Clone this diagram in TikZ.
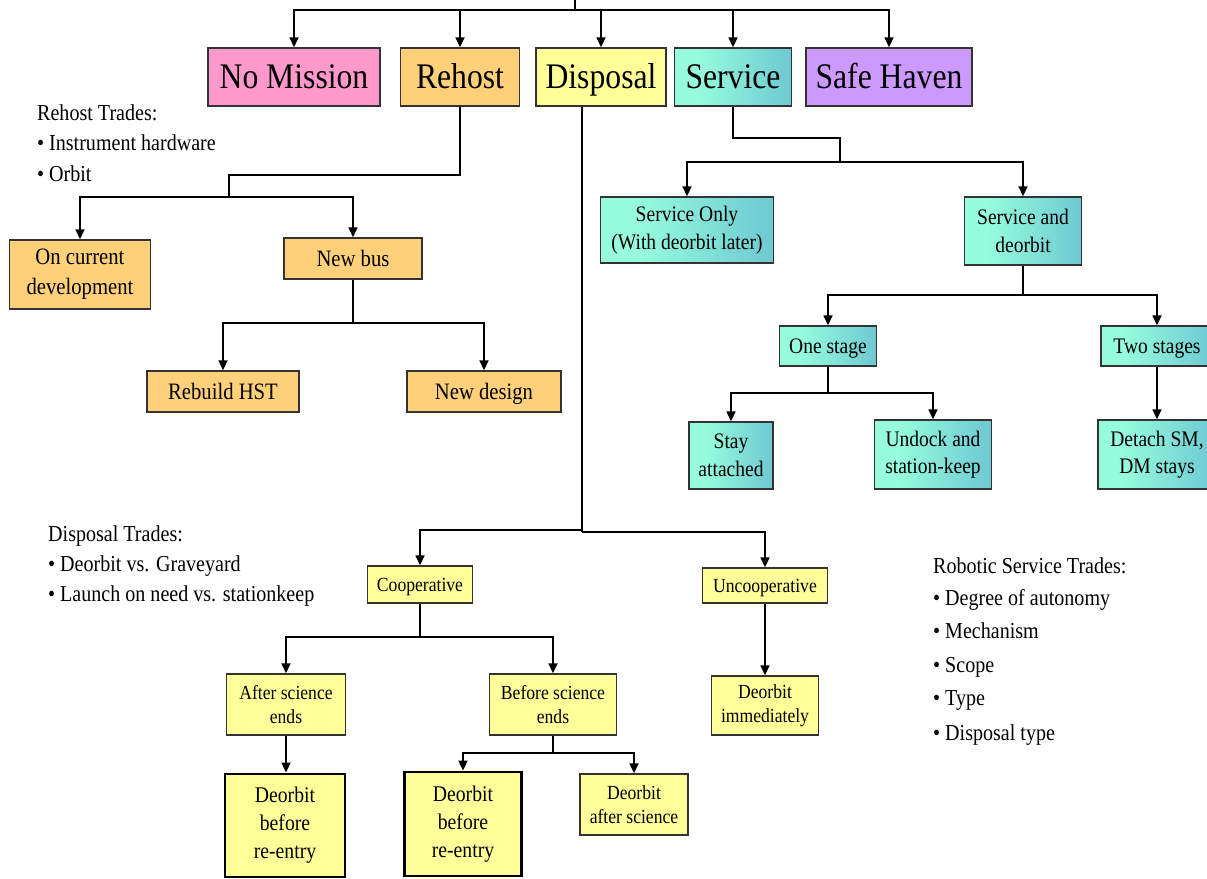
\documentclass[tikz,border=0pt]{standalone}
\usepackage{fontspec}
\setmainfont[FakeStretch=0.88]{Liberation Serif}
\usetikzlibrary{arrows.meta}
\definecolor{cPink}{HTML}{FF99CC}
\definecolor{cOrange}{HTML}{FFD07A}
\definecolor{cYellow}{HTML}{FFFF99}
\definecolor{cPurple}{HTML}{CC99FF}
\definecolor{cAqua}{HTML}{96FCDC}
\definecolor{cSteel}{HTML}{55A8CC}
\definecolor{cEdge}{HTML}{333333}
\pgfdeclarehorizontalshading{svcshade}{100bp}{color(0bp)=(cAqua); color(35bp)=(cAqua); color(100bp)=(cSteel)}
\tikzset{
  bx/.style={draw=cEdge, line width=1.4pt, inner sep=0pt, align=center},
  big/.style={bx, text height=23.8pt, text depth=0pt, minimum height=58pt, font=\fontsize{36}{40}\selectfont},
  rh/.style={bx, fill=cOrange, font=\fontsize{23.5}{30}\selectfont},
  rhone/.style={rh, text height=15.5pt, text depth=0pt},
  sv/.style={bx, shading=svcshade, font=\fontsize{22.2}{27.5}\selectfont},
  svone/.style={sv, text height=14.6pt, text depth=0pt},
  dp/.style={bx, fill=cYellow, font=\fontsize{20}{24}\selectfont},
  dpone/.style={dp, text height=13.2pt, text depth=0pt},
  dpthick/.style={bx, fill=cYellow, line width=2.8pt, draw=black, font=\fontsize{22.4}{28}\selectfont},
  ln/.style={line width=1.7pt, black},
  arr/.style={ln, -{Triangle[length=10pt,width=9pt]}},
  trade/.style={anchor=base west, inner sep=0pt, font=\fontsize{22.8}{24}\selectfont}
}
\begin{document}
\begin{tikzpicture}[x=1pt,y=-1pt]
\clip (0,0) rectangle (1207,878);
% top level
\node[big, fill=cPink, minimum width=172pt] (nomission) at (294,77) {No Mission};
\node[big, fill=cOrange, minimum width=119pt] (rehost) at (460,77) {Rehost};
\node[big, fill=cYellow, minimum width=130pt] (disposal) at (601,77) {Disposal};
\node[big, shading=svcshade, minimum width=117pt] (service) at (733,77) {Service};
\node[big, fill=cPurple, minimum width=166pt] (safehaven) at (889,77) {Safe Haven};
\coordinate (top) at (575,0);
\coordinate (hub) at (575,10);
\draw[ln] (top) -- (hub);
\draw[arr] (hub) -| (nomission.north);
\draw[arr] (hub) -| (rehost.north);
\draw[arr] (hub) -| (disposal.north);
\draw[arr] (hub) -| (service.north);
\draw[arr] (hub) -| (safehaven.north);
% rehost tree
\node[rh, minimum width=141pt, minimum height=69pt] (oncur) at (80,274.5) {On current\\development};
\node[rhone, minimum width=138pt, minimum height=41pt] (newbus) at (353,258.5) {New bus};
\node[rhone, minimum width=152pt, minimum height=41pt] (rebuild) at (223,391.5) {Rebuild HST};
\node[rhone, minimum width=154pt, minimum height=41pt] (newdesign) at (484,391.5) {New design};
\coordinate (rj) at (229,197);
\draw[ln] (rehost.south) -- (rehost.south |- 0,175) -- (rj |- 0,175) -- (rj);
\draw[arr] (rj) -| (oncur.north);
\draw[arr] (rj) -| (newbus.north);
\coordinate (nj) at (353,323);
\draw[ln] (newbus.south) -- (nj);
\draw[arr] (nj) -| (rebuild.north);
\draw[arr] (nj) -| (newdesign.north);
% service tree
\node[sv, minimum width=173pt, minimum height=66pt] (svconly) at (687,230) {Service Only\\(With deorbit later)};
\node[sv, minimum width=117pt, minimum height=68pt] (svcdeorb) at (1023,231) {Service and\\deorbit};
\node[svone, minimum width=97pt, minimum height=40pt] (onestage) at (828,346) {One stage};
\node[svone, minimum width=112pt, minimum height=40pt] (twostage) at (1157,346) {Two stages};
\node[sv, minimum width=84pt, minimum height=67pt] (stay) at (731,455.5) {Stay\\attached};
\node[sv, minimum width=117pt, minimum height=69pt] (undock) at (933,454.5) {Undock and\\station-keep};
\node[sv, minimum width=118pt, minimum height=69pt] (detach) at (1157,454.5) {Detach SM,\\DM stays};
\coordinate (sj) at (840,162);
\draw[ln] (service.south) -- (service.south |- 0,138) -- (sj |- 0,138) -- (sj);
\draw[arr] (sj) -| (svconly.north);
\draw[arr] (sj) -| (svcdeorb.north);
\coordinate (dj2) at (1023,295);
\draw[ln] (svcdeorb.south) -- (dj2);
\draw[arr] (dj2) -| (onestage.north);
\draw[arr] (dj2) -| (twostage.north);
\coordinate (oj) at (828,393);
\draw[ln] (onestage.south) -- (oj);
\draw[arr] (oj) -| (stay.north);
\draw[arr] (oj) -| (undock.north);
\draw[arr] (twostage.south) -- (detach.north);
% disposal tree
\node[dpone, minimum width=105pt, minimum height=37pt] (coop) at (420,584.5) {Cooperative};
\node[dpone, minimum width=125pt, minimum height=35pt] (uncoop) at (765,585.5) {Uncooperative};
\node[dp, minimum width=119pt, minimum height=61pt] (after) at (286,704.5) {After science\\ends};
\node[dp, minimum width=127pt, minimum height=61pt] (before) at (553,704.5) {Before science\\ends};
\node[dp, minimum width=107pt, minimum height=59pt] (deorbimm) at (765,705.5) {Deorbit\\immediately};
\node[dpthick, minimum width=120pt, minimum height=103pt] (dbr1) at (285,825.5) {Deorbit\\before\\re-entry};
\node[dpthick, minimum width=117pt, minimum height=104pt] (dbr2) at (463,824) {Deorbit\\before\\re-entry};
\node[dp, minimum width=108pt, minimum height=61pt] (deorbafter) at (634,804.5) {Deorbit\\after science};
\coordinate (dj) at (582,530);
\coordinate (dk) at (582,532);
\draw[ln] (disposal.south -| dj) -- (dk);
\draw[arr] (dj) -| (coop.north);
\draw[arr] (dk) -| (uncoop.north);
\coordinate (cj) at (420,637);
\draw[ln] (coop.south) -- (cj);
\draw[arr] (cj) -| (after.north);
\draw[arr] (cj) -| (before.north);
\draw[arr] (uncoop.south) -- (deorbimm.north);
\draw[arr] (after.south) -- (after.south |- dbr1.north);
\coordinate (bj) at (553,753);
\draw[ln] (before.south) -- (bj);
\draw[arr] (bj) -| (dbr2.north);
\draw[arr] (bj) -| (deorbafter.north);
% trades texts
\node[trade] (rt1) at (37,120) {Rehost Trades:};
\node[trade] (rt2) at (37,150.5) {\textbullet\ Instrument hardware};
\node[trade] (rt3) at (37,181) {\textbullet\ Orbit};
\node[trade] (dt1) at (48,541) {Disposal Trades:};
\node[trade] (dt2) at (48,571) {\textbullet\ Deorbit vs. Graveyard};
\node[trade] (dt3) at (48,601) {\textbullet\ Launch on need vs. stationkeep};
\node[trade] (st1) at (933,573) {Robotic Service Trades:};
\node[trade] (st2) at (933,605) {\textbullet\ Degree of autonomy};
\node[trade] (st3) at (933,638) {\textbullet\ Mechanism};
\node[trade] (st4) at (933,672) {\textbullet\ Scope};
\node[trade] (st5) at (933,705) {\textbullet\ Type};
\node[trade] (st6) at (933,740) {\textbullet\ Disposal type};
\end{tikzpicture}
\end{document}
